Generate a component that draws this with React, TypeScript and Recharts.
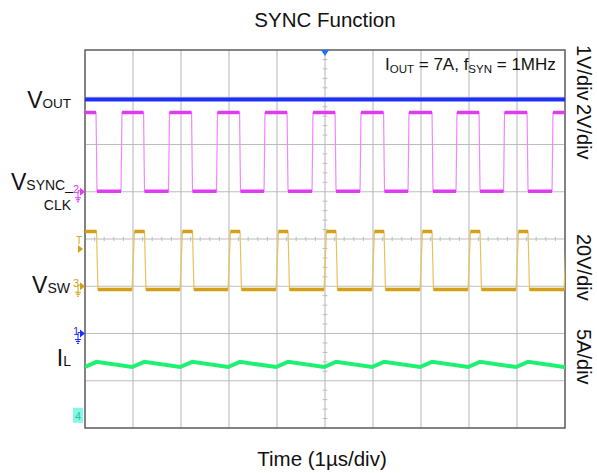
import { LineChart, Line, XAxis, YAxis, CartesianGrid, ReferenceLine, ReferenceArea, ReferenceDot } from 'recharts'

const FONT = '"Liberation Sans", Arial, sans-serif'

// time axis: 10 divisions of 1 us
const timeTicks = [0, 1, 2, 3, 4, 5, 6, 7, 8, 9, 10]
// screen divisions (8 vertical)
const divTicks = [0, 1, 2, 3, 4, 5, 6, 7, 8]

// VOUT, 1V/div
const voutLevel = 4.95

// SYNC_CLK, 2V/div (edge times in us)
const syncRise = [0.75, 1.74, 2.74, 3.73, 4.73, 5.73, 6.73, 7.73, 8.72, 9.73]
const syncFall = [0.23, 1.22, 2.22, 3.22, 4.21, 5.21, 6.22, 7.23, 8.21, 9.21]
const syncHigh = 3.35
const syncLow = 0.02

// VSW, 20V/div
const swRise = [0.98, 1.98, 2.98, 3.98, 4.98, 5.98, 6.98, 7.98, 8.98, 9.98]
const swFall = [0.24, 1.24, 2.24, 3.23, 4.23, 5.23, 6.23, 7.23, 8.23, 9.23]
const swHigh = 23.2
const swLow = -1.4

// IL, 5A/div
const ilPeak = 7.0
const ilValley = 6.45

type Pt = { t: number; v: number | null }

function squareWave(rise: number[], fall: number[], lo: number, hi: number, riseW: number, fallW: number, startHigh: boolean): Pt[] {
  const edges = [
    ...rise.map((t) => ({ t, up: true })),
    ...fall.map((t) => ({ t, up: false })),
  ].sort((a, b) => a.t - b.t)
  const pts: Pt[] = [{ t: 0, v: startHigh ? hi : lo }]
  let last = startHigh ? hi : lo
  edges.forEach((e) => {
    pts.push({ t: e.t, v: e.up ? lo : hi })
    pts.push({ t: e.t + (e.up ? riseW : fallW), v: e.up ? hi : lo })
    last = e.up ? hi : lo
  })
  pts.push({ t: 10.1, v: last })
  return pts
}

// break line between differing levels so only flat parts get drawn thick
function plateaus(pts: Pt[]): Pt[] {
  const out: Pt[] = []
  pts.forEach((p, i) => {
    if (i > 0 && pts[i - 1].v !== p.v) out.push({ t: (pts[i - 1].t + p.t) / 2, v: null })
    out.push(p)
  })
  return out
}

const syncData = squareWave(syncRise, syncFall, syncLow, syncHigh, 0.02, 0.02, true)
const swData = squareWave(swRise, swFall, swLow, swHigh, 0.05, 0.03, true)
const voutData: Pt[] = [{ t: 0, v: voutLevel }, { t: 10, v: voutLevel }]
const ilData: Pt[] = [{ t: 0, v: ilValley }]
swFall.forEach((f, i) => {
  ilData.push({ t: f, v: ilPeak })
  if (swRise[i] !== undefined) ilData.push({ t: swRise[i], v: ilValley })
})
ilData.push({ t: 10, v: ilValley })

const minorX = Array.from({ length: 49 }, (_, i) => (i + 1) / 5).filter((v) => Math.abs(v - Math.round(v)) > 1e-6)
const minorY = Array.from({ length: 39 }, (_, i) => (i + 1) / 5).filter((v) => Math.abs(v - Math.round(v)) > 1e-6)

function GroundMark(props: any) {
  const { cx, cy, label, color } = props
  return (
    <g>
      <text x={cx - 12} y={cy + 1} fontSize={11} fill={color} fontFamily={FONT}>{label}</text>
      <path d={`M${cx - 7} ${cy + 9} V${cy - 1} H${cx - 5}`} stroke={color} fill="none" strokeWidth={1} />
      <path d={`M${cx - 5} ${cy - 4} L${cx} ${cy} L${cx - 5} ${cy + 4} Z`} fill={color} />
      <path d={`M${cx - 10} ${cy + 6} H${cx - 4} M${cx - 9} ${cy + 8} H${cx - 5} M${cx - 8} ${cy + 10} H${cx - 6}`} stroke={color} strokeWidth={1} />
    </g>
  )
}

function TriggerMark(props: any) {
  const { cx, cy } = props
  const c = '#d4a017'
  return (
    <g>
      <text x={cx - 9} y={cy + 4} fontSize={10} fill={c} fontFamily={FONT}>T</text>
      <path d={`M${cx - 7} ${cy + 5} L${cx - 2} ${cy + 9} L${cx - 7} ${cy + 13} Z`} fill={c} />
    </g>
  )
}

function Ch4Mark(props: any) {
  const { cx, cy } = props
  return (
    <g>
      <rect x={cx - 12} y={cy - 7} width={10} height={15} fill="#86f7ee" />
      <text x={cx - 10} y={cy + 5} fontSize={11} fill="#35c48a" fontFamily={FONT}>4</text>
    </g>
  )
}

function TopTrigger(props: any) {
  const { cx, cy } = props
  return <path d={`M${cx - 4} ${cy} L${cx + 4} ${cy} L${cx} ${cy + 6} Z`} fill="#1f6fff" />
}

export default function App() {
  return (
    <div style={{ position: 'absolute', left: 0, top: 0, width: 597, height: 473, background: '#fff' }}>
      <LineChart width={597} height={473} margin={{ top: 50, right: 32, bottom: 45, left: 85 }}>
        <XAxis dataKey="t" type="number" domain={[0, 10]} ticks={timeTicks} hide allowDataOverflow />
        <YAxis yAxisId="div" type="number" domain={[0, 8]} ticks={divTicks} hide allowDataOverflow />
        <YAxis yAxisId="ch1" type="number" domain={[-2, 6]} hide allowDataOverflow />
        <YAxis yAxisId="ch2" type="number" domain={[-10, 6]} hide allowDataOverflow />
        <YAxis yAxisId="ch3" type="number" domain={[-60, 100]} hide allowDataOverflow />
        <YAxis yAxisId="ch4" type="number" domain={[0, 40]} hide allowDataOverflow />
        <CartesianGrid yAxisId="div" horizontal={false} stroke="#d9d9d9" strokeWidth={2} />
        <CartesianGrid yAxisId="div" vertical={false} stroke="#bcbcbc" strokeWidth={1} />

        {minorX.map((x) => (
          <ReferenceLine key={'mx' + x} yAxisId="div" segment={[{ x, y: 3.955 }, { x, y: 4.045 }]} stroke="#bcbcbc" />
        ))}
        {minorY.map((y) => (
          <ReferenceLine key={'my' + y} yAxisId="div" segment={[{ x: 4.95, y }, { x: 5.05, y }]} stroke="#bcbcbc" />
        ))}

        <Line data={ilData} dataKey="v" yAxisId="ch4" stroke="#1ef072" strokeWidth={4} dot={false} activeDot={false} isAnimationActive={false} />
        <Line data={swData} dataKey="v" yAxisId="ch3" stroke="#e6c25a" strokeWidth={1.2} dot={false} activeDot={false} isAnimationActive={false} />
        <Line data={plateaus(swData)} dataKey="v" yAxisId="ch3" stroke="#d4a017" strokeWidth={3.5} dot={false} activeDot={false} isAnimationActive={false} />
        <Line data={syncData} dataKey="v" yAxisId="ch2" stroke="#ee88ff" strokeWidth={1.2} dot={false} activeDot={false} isAnimationActive={false} />
        <Line data={plateaus(syncData)} dataKey="v" yAxisId="ch2" stroke="#df3cf2" strokeWidth={3.5} dot={false} activeDot={false} isAnimationActive={false} />
        <Line data={voutData} dataKey="v" yAxisId="ch1" stroke="#1f2fff" strokeWidth={4} dot={false} activeDot={false} isAnimationActive={false} />

        <ReferenceArea yAxisId="div" x1={0} x2={10} y1={0} y2={8} fill="none" fillOpacity={0} stroke="#666" strokeWidth={1.5} />

        <ReferenceDot yAxisId="ch2" x={0} y={0} r={0} ifOverflow="visible" shape={(p: any) => <GroundMark {...p} label="2" color="#df3cf2" />} />
        <ReferenceDot yAxisId="ch3" x={0} y={0} r={0} ifOverflow="visible" shape={(p: any) => <GroundMark {...p} label="3" color="#d4a017" />} />
        <ReferenceDot yAxisId="ch1" x={0} y={0} r={0} ifOverflow="visible" shape={(p: any) => <GroundMark {...p} label="1" color="#1f2fff" />} />
        <ReferenceDot yAxisId="div" x={0} y={3.98} r={0} ifOverflow="visible" shape={(p: any) => <TriggerMark {...p} />} />
        <ReferenceDot yAxisId="div" x={0} y={0.28} r={0} ifOverflow="visible" shape={(p: any) => <Ch4Mark {...p} />} />
        <ReferenceDot yAxisId="div" x={5} y={8} r={0} ifOverflow="visible" shape={(p: any) => <TopTrigger {...p} />} />
      </LineChart>

      <svg width={597} height={473} style={{ position: 'absolute', left: 0, top: 0, pointerEvents: 'none' }} fontFamily={FONT}>
        <text x={325} y={27} fontSize={20.5} textAnchor="middle" fill="#111">SYNC Function</text>
        <text x={322} y={466} fontSize={20.5} textAnchor="middle" fill="#111">Time (1µs/div)</text>

        <text x={385} y={70} fontSize={17} fill="#111">
          I<tspan fontSize={11.5} dy={3}>OUT</tspan>
          <tspan dy={-3}> = 7A, f</tspan>
          <tspan fontSize={11.5} dy={3}>SYN</tspan>
          <tspan dy={-3}> = 1MHz</tspan>
        </text>

        <text x={71} y={108} fontSize={23} textAnchor="end" fill="#111">V<tspan fontSize={13.5}>OUT</tspan></text>
        <text x={73} y={190} fontSize={23} textAnchor="end" fill="#111">V<tspan fontSize={14}>SYNC_</tspan></text>
        <text x={71} y={210} fontSize={14} textAnchor="end" fill="#111">CLK</text>
        <text x={70} y={293} fontSize={23} textAnchor="end" fill="#111">V<tspan fontSize={14}>SW</tspan></text>
        <text x={71} y={366} fontSize={23} textAnchor="end" fill="#111">I<tspan fontSize={14}>L</tspan></text>

        <text transform="translate(577,45) rotate(90)" fontSize={20} fill="#111">1V/div</text>
        <text transform="translate(577,104) rotate(90)" fontSize={20} fill="#111">2V/div</text>
        <text transform="translate(577,234) rotate(90)" fontSize={20} fill="#111">20V/div</text>
        <text transform="translate(577,329) rotate(90)" fontSize={20} fill="#111">5A/div</text>
      </svg>
    </div>
  )
}
